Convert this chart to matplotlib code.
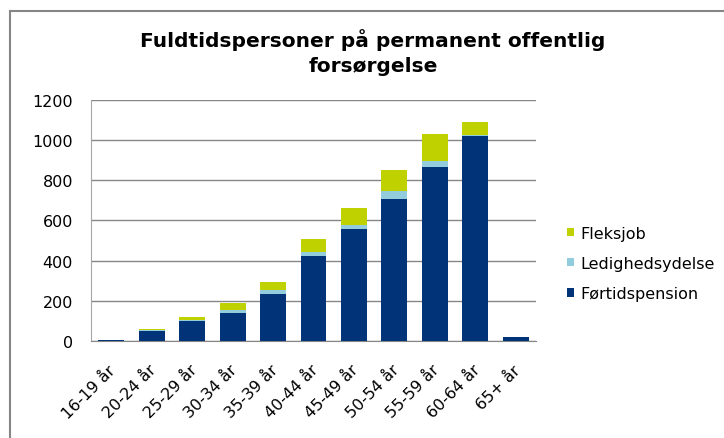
import matplotlib.pyplot as plt
from matplotlib.patches import Rectangle
from matplotlib.transforms import ScaledTranslation
import numpy as np

# data
categories = ["16-19 år", "20-24 år", "25-29 år", "30-34 år", "35-39 år",
              "40-44 år", "45-49 år", "50-54 år", "55-59 år", "60-64 år", "65+ år"]
fortid = [7, 50, 99, 141, 232, 422, 557, 706, 868, 1021, 22]
ledig = [0, 4, 5, 13, 23, 20, 18, 43, 28, 5, 0]
fleks = [0, 6, 17, 35, 40, 67, 88, 104, 135, 62, 0]

plt.rcParams["font.family"] = ["Verdana", "DejaVu Sans"]

fig = plt.figure(figsize=(7.24, 4.39), dpi=100)
ax = fig.add_axes([91 / 724, 0.221, 445 / 724, 0.549])

# chart area border (only top and left visible)
fig.add_artist(Rectangle((10 / 724, -0.1), 1.0, (439 - 12) / 439 + 0.1,
                         transform=fig.transFigure, fill=False,
                         edgecolor="#868686", linewidth=1.5))

x = np.arange(len(categories))
w = 0.64
b1 = ax.bar(x, fortid, w, color="#003378", label="Førtidspension", zorder=3)
b2 = ax.bar(x, ledig, w, bottom=fortid, color="#93CDDD", label="Ledighedsydelse", zorder=3)
bottom2 = np.array(fortid) + np.array(ledig)
b3 = ax.bar(x, fleks, w, bottom=bottom2, color="#BFD200", label="Fleksjob", zorder=3)

ax.set_xlim(-0.5, len(categories) - 0.5)
ax.set_ylim(0, 1200)
ax.set_yticks(np.arange(0, 1201, 200))
ax.yaxis.grid(True, color="#868686", linewidth=1, zorder=0)
ax.set_xticks(x)
ax.set_xticklabels(categories, rotation=45, ha="right", rotation_mode="anchor")
ax.tick_params(axis="x", length=0, labelsize=11.5, pad=15)
ax.tick_params(axis="y", length=0, labelsize=11.5, pad=13)
shift = ScaledTranslation(-3 / 100, 0, fig.dpi_scale_trans)
for lab in ax.get_xticklabels():
    lab.set_transform(lab.get_transform() + shift)

for s in ["top", "right"]:
    ax.spines[s].set_visible(False)
ax.spines["left"].set_color("#a6a6a6")
ax.spines["bottom"].set_color("#868686")

fig.suptitle("Fuldtidspersoner på permanent offentlig\nforsørgelse",
             x=0.515, y=0.935, fontsize=14.5, fontweight="bold", linespacing=1.4)

ax.legend(handles=[b3, b2, b1], loc="center left", bbox_to_anchor=(1.07, 0.322),
          frameon=False, fontsize=11.5, handlelength=0.45, handleheight=0.45,
          handletextpad=0.35, labelspacing=0.95, borderaxespad=0, borderpad=0)

fig.savefig("out.png", dpi=100)
